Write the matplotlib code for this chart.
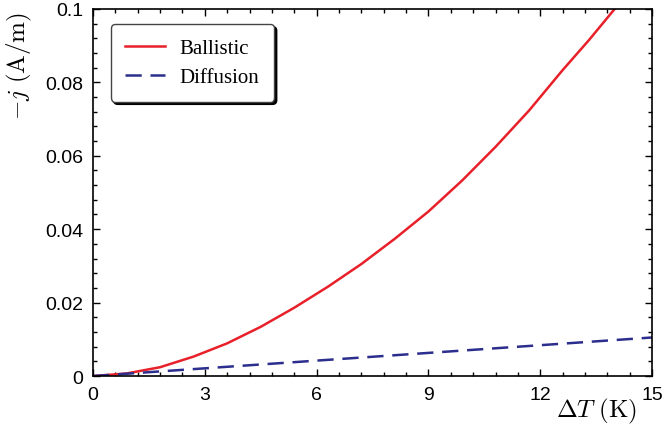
import matplotlib
matplotlib.use("Agg")
import matplotlib.pyplot as plt
from matplotlib.ticker import MultipleLocator

# values
dT_ball = [0, 0.9, 1.8, 2.7, 3.6, 4.5, 5.4, 6.3, 7.2, 8.1, 9.0,
           9.9, 10.8, 11.7, 12.6, 13.3, 14.0, 14.3]
j_ball = [0, 0.0007, 0.0024, 0.0053, 0.0089, 0.0134, 0.0186, 0.0243,
          0.0305, 0.0374, 0.0448, 0.0532, 0.0624, 0.0723, 0.0833,
          0.0914, 0.1000, 0.1036]
dT_diff = [0, 15]
j_diff = [0, 0.0105]

yticks = [0, 0.02, 0.04, 0.06, 0.08, 0.1]
ytick_labels = ["0", "0.02", "0.04", "0.06", "0.08", "0.1"]

plt.rcParams["mathtext.fontset"] = "cm"

fig = plt.figure(figsize=(6.64, 4.27), dpi=100)
ax = fig.add_axes([0.140, 0.117, 0.842, 0.860])

ax.plot(dT_ball, j_ball, color="#e8202a", lw=1.8, label="Ballistic")
ax.plot(dT_diff, j_diff, color="#2b2e8c", lw=1.8, ls=(0, (6.5, 3.5)), label="Diffusion")

ax.set_xlim(0, 15)
ax.set_ylim(0, 0.1)
ax.xaxis.set_major_locator(MultipleLocator(3))
ax.xaxis.set_minor_locator(MultipleLocator(0.6))
ax.yaxis.set_minor_locator(MultipleLocator(0.004))
ax.set_yticks(yticks)
ax.set_yticklabels(ytick_labels)

for lab in ax.get_xticklabels() + ax.get_yticklabels():
    lab.set_family("Liberation Sans")
    lab.set_fontsize(14)

ax.tick_params(which="both", direction="in", top=True, right=True, width=1)
ax.tick_params(which="major", length=5, pad=7)
ax.tick_params(which="minor", length=3)
for s in ax.spines.values():
    s.set_linewidth(1.2)

fig.text(0.899, 0.037, r"$\Delta T\ \mathrm{(K)}$", fontsize=18, ha="center", va="center")
fig.text(0.030, 0.845, r"$-j\ \mathrm{(A/m)}$", fontsize=18, ha="center", va="center",
         rotation=90)

leg = ax.legend(loc="upper left", bbox_to_anchor=(0.032, 0.959), borderaxespad=0,
                fancybox=True, shadow={"color": "black", "alpha": 1}, framealpha=1,
                edgecolor="#444444", prop={"family": "Liberation Serif", "size": 15},
                handlelength=1.9, handletextpad=0.7, borderpad=0.7, labelspacing=0.45)
leg.get_frame().set_linewidth(1.0)

fig.savefig("out.png", dpi=100)
